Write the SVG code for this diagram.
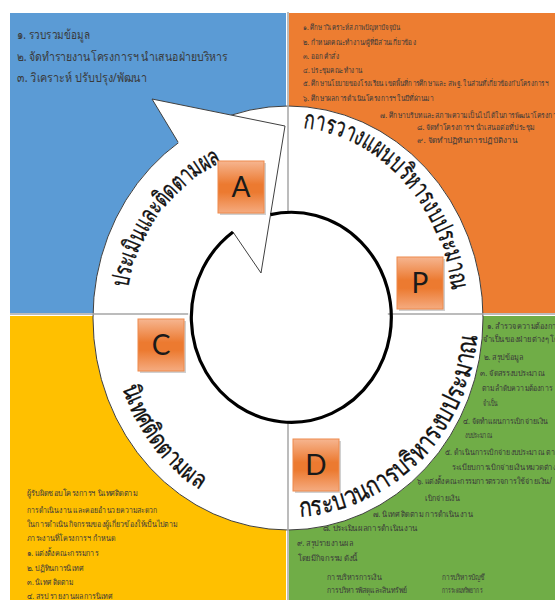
<svg xmlns="http://www.w3.org/2000/svg" width="555" height="600" viewBox="0 0 555 600">
<style>
.sm{font-family:"Noto Sans","DejaVu Sans",sans-serif;fill:#3a3a3a}
.b{font-size:12.5px}
.o{font-size:7.6px}
.y{font-size:8.3px}
.g{font-size:8.3px}
.big{font-family:"Noto Sans","DejaVu Sans",sans-serif;fill:#111;stroke:#111;stroke-width:0.35}
.box{fill:url(#og);stroke:#ee8a4c;stroke-width:1}
.shadow{fill:#b0b0b0;opacity:0.6}
.lt{font-family:Lato,"Liberation Sans",sans-serif;font-size:28px;text-anchor:middle;fill:#1a1a1a}
.div{stroke:#a6a6a6;stroke-width:1.5}
</style>
<defs>
<linearGradient id="og" x1="0" y1="0" x2="0" y2="1">
<stop offset="0" stop-color="#f6b590"/>
<stop offset="0.45" stop-color="#ec7a30"/>
<stop offset="0.6" stop-color="#ec7a30"/>
<stop offset="1" stop-color="#f5ab80"/>
</linearGradient>
<path id="pPlan" d="M 303,128 A 166 191 0 0 1 452,290"/>
<path id="pAct" d="M 128,288 A 163 171 0 0 1 222,162"/>
<path id="pDo" d="M 300,517 A 190 199 0 0 0 477,335"/>
<path id="pCheck" d="M 122,388 A 178 198 0 0 0 200,490"/>
</defs>
<rect width="555" height="600" fill="#ffffff"/>

<g id="quad-act">
<rect x="10" y="13" width="276" height="300" fill="#5b9bd5"/>
<text class="sm b" x="17" y="39" textLength="73" lengthAdjust="spacingAndGlyphs">๑. รวบรวมข้อมูล</text>
<text class="sm b" x="17" y="61" textLength="211" lengthAdjust="spacingAndGlyphs">๒. จัดทำรายงานโครงการฯ  นำเสนอฝ่ายบริหาร</text>
<text class="sm b" x="17" y="82" textLength="130" lengthAdjust="spacingAndGlyphs">๓. วิเคราะห์ ปรับปรุง/พัฒนา</text>
</g>

<g id="quad-plan">
<rect x="289" y="13" width="266" height="300" fill="#ed7d31"/>
<text class="sm o" x="303" y="30" textLength="97" lengthAdjust="spacingAndGlyphs">๑. ศึกษาวิเคราะห์สภาพปัญหาปัจจุบัน</text>
<text class="sm o" x="303" y="45" textLength="113" lengthAdjust="spacingAndGlyphs">๒. กำหนดคณะทำงาน/ผู้ที่มีส่วนเกี่ยวข้อง</text>
<text class="sm o" x="303" y="59" textLength="36" lengthAdjust="spacingAndGlyphs">๓. ออกคำสั่ง</text>
<text class="sm o" x="303" y="73" textLength="59" lengthAdjust="spacingAndGlyphs">๔. ประชุมคณะทำงาน</text>
<text class="sm o" x="303" y="86" textLength="245" lengthAdjust="spacingAndGlyphs">๕. ศึกษานโยบายของโรงเรียน เขตพื้นที่การศึกษาและ สพฐ. ในส่วนที่เกี่ยวข้องกับโครงการฯ</text>
<text class="sm o" x="303" y="101" textLength="130" lengthAdjust="spacingAndGlyphs">๖. ศึกษาผลการดำเนินโครงการฯ ในปีที่ผ่านมา</text>
<text class="sm o" x="380" y="118" textLength="180" lengthAdjust="spacingAndGlyphs">๗. ศึกษาบริบทและสภาพความเป็นไปได้ในการพัฒนาโครงการ</text>
<text class="sm o" x="417" y="130" textLength="118" lengthAdjust="spacingAndGlyphs">๘. จัดทำโครงการฯ นำเสนอต่อที่ประชุม</text>
<text class="sm o" x="417" y="143" textLength="100" lengthAdjust="spacingAndGlyphs">๙. จัดทำปฏิทินการปฏิบัติงาน</text>
</g>

<g id="quad-check">
<rect x="10" y="316" width="276" height="284" fill="#ffc000"/>
<text class="sm y" x="27" y="496" textLength="110" lengthAdjust="spacingAndGlyphs">ผู้รับผิดชอบโครงการฯ  นิเทศติดตาม</text>
<text class="sm y" x="27" y="513" textLength="130" lengthAdjust="spacingAndGlyphs">การดำเนินงาน และคอยอำนวยความสะดวก</text>
<text class="sm y" x="27" y="527" textLength="150" lengthAdjust="spacingAndGlyphs">ในการดำเนินกิจกรรมของผู้เกี่ยวข้องให้เป็นไปตาม</text>
<text class="sm y" x="27" y="541" textLength="88" lengthAdjust="spacingAndGlyphs">ภาระงานที่โครงการฯ กำหนด</text>
<text class="sm y" x="27" y="556" textLength="71" lengthAdjust="spacingAndGlyphs">๑. แต่งตั้งคณะกรรมการ</text>
<text class="sm y" x="27" y="571" textLength="56" lengthAdjust="spacingAndGlyphs">๒. ปฏิทินการนิเทศ</text>
<text class="sm y" x="27" y="585" textLength="46" lengthAdjust="spacingAndGlyphs">๓. นิเทศ ติดตาม</text>
<text class="sm y" x="27" y="599" textLength="85" lengthAdjust="spacingAndGlyphs">๔. สรุป รายงานผลการนิเทศ</text>
</g>

<g id="quad-do">
<rect x="289" y="316" width="266" height="284" fill="#70ad47"/>
<text class="sm g" x="487" y="329" textLength="73" lengthAdjust="spacingAndGlyphs">๑. สำรวจความต้องการ</text>
<text class="sm g" x="483" y="342" textLength="80" lengthAdjust="spacingAndGlyphs">จำเป็นของฝ่ายต่างๆ โดย</text>
<text class="sm g" x="484" y="360" textLength="39" lengthAdjust="spacingAndGlyphs">๒. สรุปข้อมูล</text>
<text class="sm g" x="480" y="376" textLength="65" lengthAdjust="spacingAndGlyphs">๓. จัดสรรงบประมาณ</text>
<text class="sm g" x="482" y="391" textLength="70" lengthAdjust="spacingAndGlyphs">ตามลำดับความต้องการ</text>
<text class="sm g" x="483" y="406" textLength="15" lengthAdjust="spacingAndGlyphs">จำเป็น</text>
<text class="sm g" x="463" y="424" textLength="85" lengthAdjust="spacingAndGlyphs">๔. จัดทำแผนการเบิกจ่ายเงิน</text>
<text class="sm g" x="465" y="438" textLength="27" lengthAdjust="spacingAndGlyphs">งบประมาณ</text>
<text class="sm g" x="445" y="455" textLength="114" lengthAdjust="spacingAndGlyphs">๕. ดำเนินการเบิกจ่ายงบประมาณ ตาม</text>
<text class="sm g" x="452" y="470" textLength="108" lengthAdjust="spacingAndGlyphs">ระเบียบการเบิกจ่ายเงินหมวดต่างๆ</text>
<text class="sm g" x="417" y="484" textLength="135" lengthAdjust="spacingAndGlyphs">๖. แต่งตั้งคณะกรรมการตรวจการใช้จ่ายเงิน/</text>
<text class="sm g" x="425" y="501" textLength="35" lengthAdjust="spacingAndGlyphs">เบิกจ่ายเงิน</text>
<text class="sm g" x="373" y="517" textLength="100" lengthAdjust="spacingAndGlyphs">๗. นิเทศ ติดตาม การดำเนินงาน</text>
<text class="sm g" x="323" y="531" textLength="95" lengthAdjust="spacingAndGlyphs">๘. ประเมินผลการดำเนินงาน</text>
<text class="sm g" x="297" y="546" textLength="56" lengthAdjust="spacingAndGlyphs">๙. สรุปรายงานผล</text>
<text class="sm g" x="298" y="561" textLength="60" lengthAdjust="spacingAndGlyphs">โดยมีกิจกรรม ดังนี้</text>
<text class="sm g" x="327" y="580" textLength="55" lengthAdjust="spacingAndGlyphs">การบริหารการเงิน</text>
<text class="sm g" x="442" y="580" textLength="43" lengthAdjust="spacingAndGlyphs">การบริหารบัญชี</text>
<text class="sm g" x="327" y="593" textLength="80" lengthAdjust="spacingAndGlyphs">การบริหารพัสดุและสินทรัพย์</text>
<text class="sm g" x="442" y="593" textLength="40" lengthAdjust="spacingAndGlyphs">การระดมทรัพยากร</text>
</g>

<g id="ring">
<ellipse cx="288" cy="318" rx="195" ry="212" fill="#ffffff" stroke="#404040" stroke-width="1"/>
<line class="div" x1="288" y1="12" x2="288" y2="600"/>
<line class="div" x1="10" y1="314" x2="555" y2="314"/>
<ellipse cx="288" cy="318" rx="100" ry="105" fill="#ffffff"/>
</g>

<g id="connectors">
<polygon points="178,142 152,99 285,126 261,273 233,232" fill="#ffffff"/>
<path d="M178,142 L152,99 L285,126 L261,273 L233,232" fill="none" stroke="#404040" stroke-width="1"/>
<path d="M 270.5,214.6 A 100 105 0 1 1 233,232" fill="none" stroke="#000" stroke-width="3.2"/>
</g>

<g id="label-plan"><text class="big" font-size="26"><textPath href="#pPlan" textLength="237" lengthAdjust="spacingAndGlyphs">การวางแผนบริหารงบประมาณ</textPath></text></g>
<g id="label-act"><text class="big" font-size="25"><textPath href="#pAct" textLength="163" lengthAdjust="spacingAndGlyphs">ประเมินและติดตามผล</textPath></text></g>
<g id="label-do"><text class="big" font-size="27"><textPath href="#pDo" textLength="276" lengthAdjust="spacingAndGlyphs">กระบวนการบริหารงบประมาณ</textPath></text></g>
<g id="label-check"><text class="big" font-size="25"><textPath href="#pCheck" textLength="130" lengthAdjust="spacingAndGlyphs">นิเทศติดตามผล</textPath></text></g>

<g id="node-A"><rect class="shadow" x="220" y="163" width="46" height="52"/><rect class="box" x="218" y="161" width="46" height="52"/><text class="lt" x="241" y="197">A</text></g>
<g id="node-P"><rect class="shadow" x="399" y="259" width="46" height="52"/><rect class="box" x="397" y="257" width="46" height="52"/><text class="lt" x="420" y="293">P</text></g>
<g id="node-C"><rect class="shadow" x="140" y="321" width="46" height="52"/><rect class="box" x="138" y="319" width="46" height="52"/><text class="lt" x="161" y="355">C</text></g>
<g id="node-D"><rect class="shadow" x="295" y="441" width="46" height="52"/><rect class="box" x="293" y="439" width="46" height="52"/><text class="lt" x="316" y="475">D</text></g>
</svg>
